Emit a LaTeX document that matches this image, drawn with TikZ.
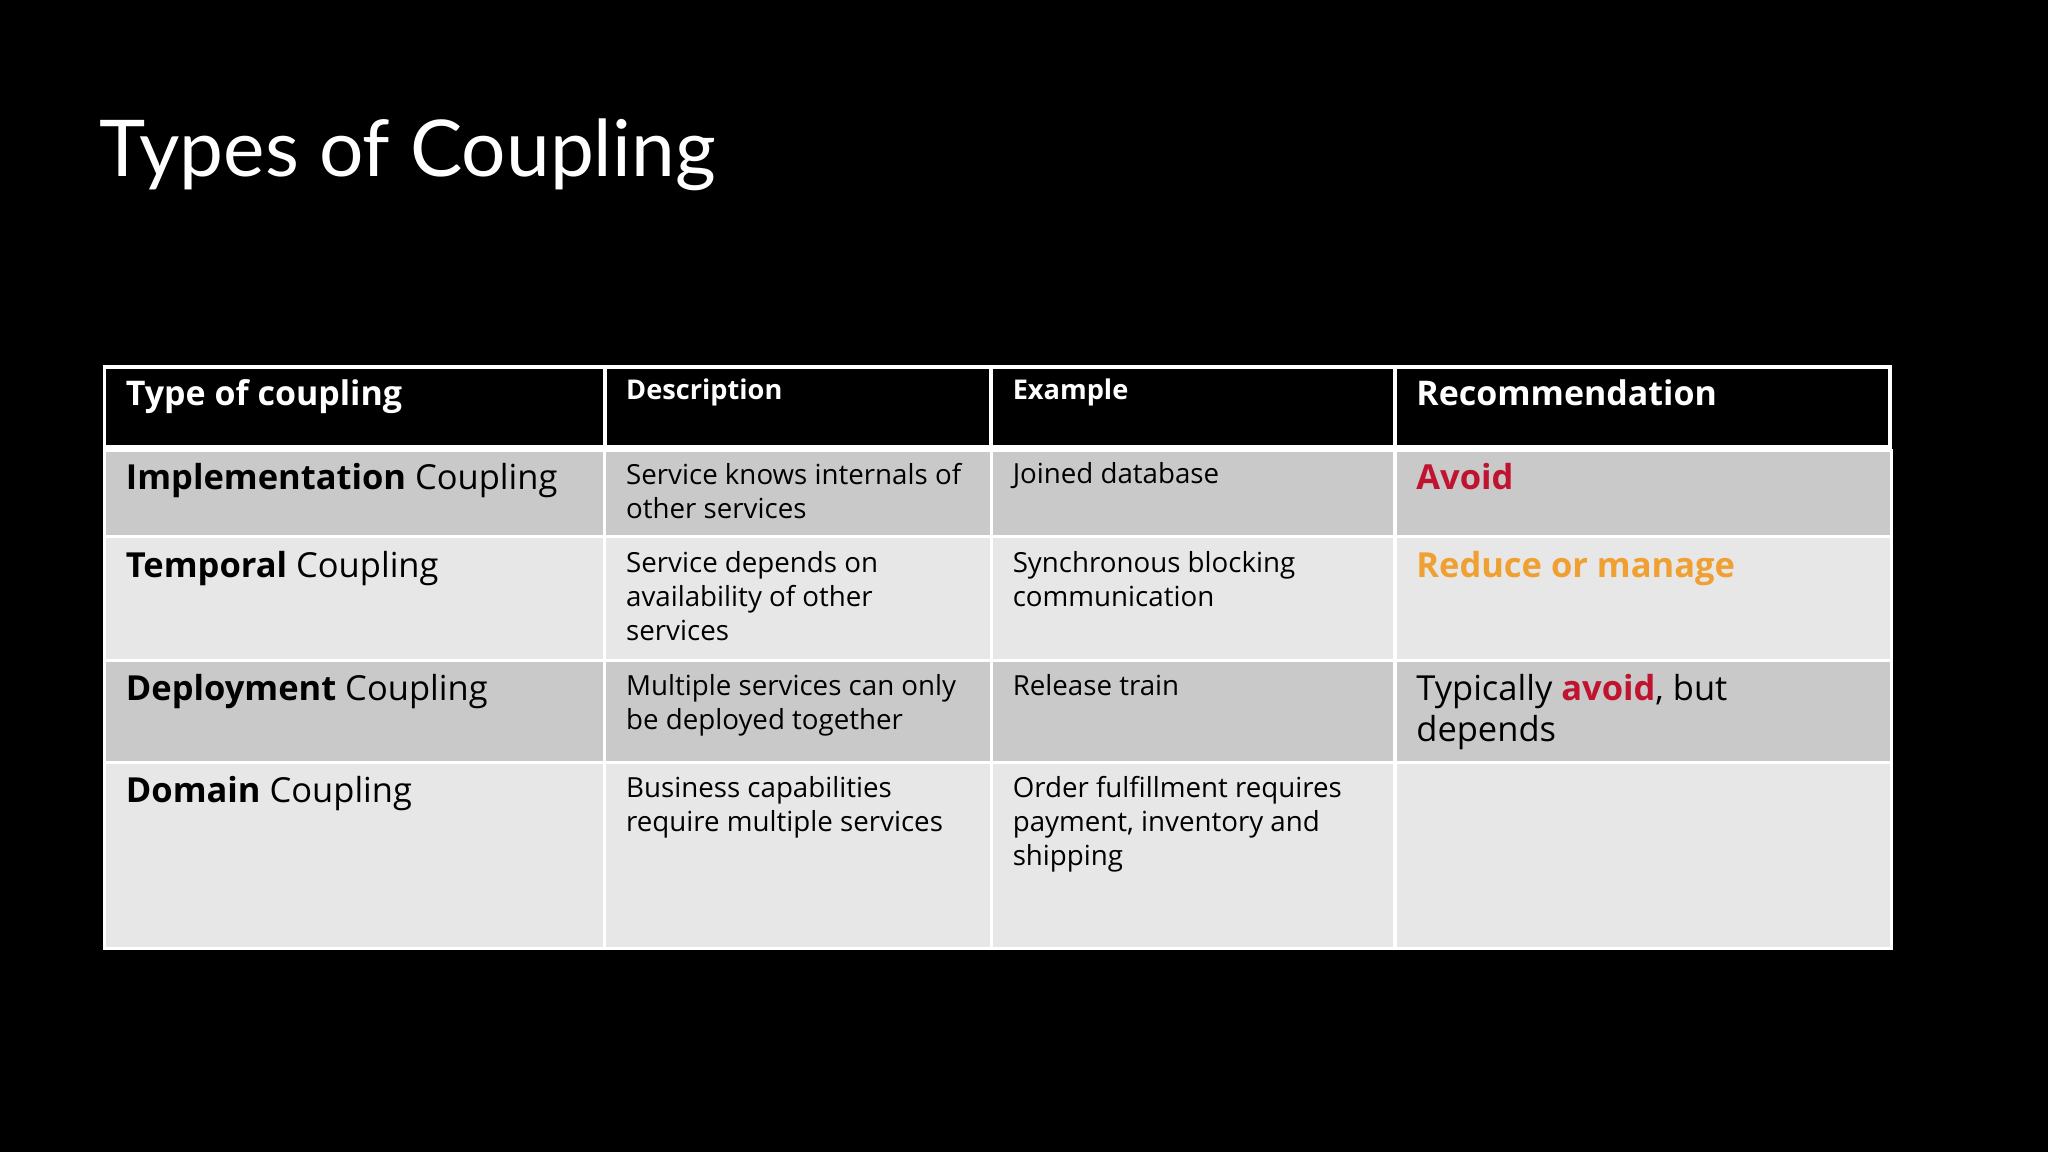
\documentclass[tikz,border=0pt]{standalone}
\usepackage{fontspec}
\setmainfont{Open Sans}
\newfontfamily\titlefont{Lato}
\definecolor{rowdark}{HTML}{C9C9C9}
\definecolor{rowlight}{HTML}{E7E7E7}
\definecolor{avoidred}{HTML}{C0132F}
\definecolor{orangec}{HTML}{F0A033}
\tikzset{
 cellfill/.style={draw=white,line width=1.5pt},
 big/.style={anchor=north west,inner sep=0pt,font=\fontsize{13.2}{16}\selectfont,align=left},
 small/.style={anchor=north west,inner sep=0pt,font=\fontsize{10.6}{13}\selectfont,align=left},
 hdr/.style={anchor=north west,inner sep=0pt,text=white,font=\bfseries\fontsize{13}{16}\selectfont},
 hdrs/.style={anchor=north west,inner sep=0pt,text=white,font=\bfseries\fontsize{10.4}{13}\selectfont},
}
\begin{document}
\begin{tikzpicture}[x=0.5pt,y=-0.5pt]
\fill[black] (0,0) rectangle (1568,882);
\useasboundingbox (0,0) rectangle (1568,882);
\node[anchor=base west,inner sep=0pt,text=white,font=\titlefont\fontsize{30}{36}\selectfont] (title) at (76,135) {Types of Coupling};
% header
\draw[white,line width=1.5pt] (80,281) rectangle (1447,342);
\foreach \x in {463,759,1068} \draw[white,line width=1.5pt] (\x,281) -- (\x,342);
% rows
\fill[rowdark] (80,345) rectangle (1448,411);
\fill[rowlight] (80,411) rectangle (1448,506);
\fill[rowdark] (80,506) rectangle (1448,584);
\fill[rowlight] (80,584) rectangle (1448,726);
\foreach \y in {345,411,506,584} \draw[white,line width=1.2pt] (80,\y) -- (1448,\y);
\foreach \x in {463,759,1068} \draw[white,line width=1.2pt] (\x,345) -- (\x,726);
\draw[white,line width=1.2pt] (80,345) rectangle (1448,726);
% header text
\node[hdr] (h1) at (96,290) {Type of coupling};
\node[hdrs] (h2) at (479,290) {Description};
\node[hdrs] (h3) at (775,290) {Example};
\node[hdr] (h4) at (1084,290) {Recommendation};
% row 1
\node[big] (r1a) at (96,354) {\textbf{Implementation} Coupling};
\node[small] (r1b) at (479,354) {Service knows internals of\\other services};
\node[small] (r1c) at (775,354) {Joined database};
\node[big,text=avoidred,font=\bfseries\fontsize{13.2}{16}\selectfont] (r1d) at (1084,354) {Avoid};
% row 2
\node[big] (r2a) at (96,422) {\textbf{Temporal} Coupling};
\node[small] (r2b) at (479,422) {Service depends on\\availability of other\\services};
\node[small] (r2c) at (775,422) {Synchronous blocking\\communication};
\node[big,text=orangec,font=\bfseries\fontsize{13.2}{16}\selectfont] (r2d) at (1084,422) {Reduce or manage};
% row 3
\node[big] (r3a) at (96,516) {\textbf{Deployment} Coupling};
\node[small] (r3b) at (479,516) {Multiple services can only\\be deployed together};
\node[small] (r3c) at (775,516) {Release train};
\node[big,font=\fontsize{13.2}{15.5}\selectfont] (r3d) at (1084,516) {Typically \textcolor{avoidred}{\textbf{avoid}}, but\\depends};
% row 4
\node[big] (r4a) at (96,594) {\textbf{Domain} Coupling};
\node[small] (r4b) at (479,594) {Business capabilities\\require multiple services};
\node[small] (r4c) at (775,594) {Order fulfillment requires\\payment, inventory and\\shipping};
\end{tikzpicture}
\end{document}
